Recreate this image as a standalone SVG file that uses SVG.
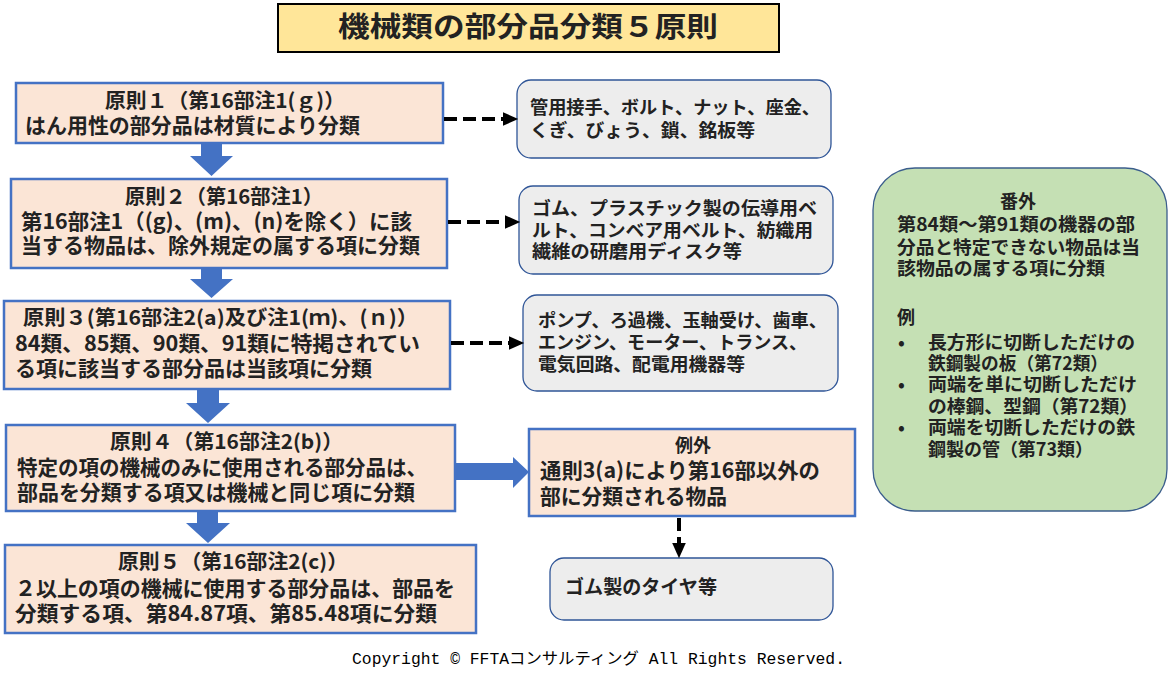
<svg xmlns="http://www.w3.org/2000/svg" width="1168" height="681" viewBox="0 0 1168 681">
<defs>
<style>
text{font-family:"Noto Sans CJK JP","Noto Sans",sans-serif;font-weight:bold;fill:#222}
.rule{fill:#FBE5D6;stroke:#4472C4;stroke-width:2.5}
.gray{fill:#EDEDED;stroke:#2F5597;stroke-width:1.3}
.h{font-size:20px}
.b{font-size:21px}
.g{font-size:18px}
.gr{font-size:18px}
.dash{stroke:#000;stroke-width:4;stroke-dasharray:13 6;fill:none}
.blk{fill:#4472C4}
</style>
<marker id="ah" markerWidth="4" markerHeight="4" refX="0" refY="2" orient="auto" markerUnits="strokeWidth"><path d="M0,0.3 L3.8,2 L0,3.7 Z" fill="#000"/></marker>
</defs>
<rect width="1168" height="681" fill="#fff"/>
<g id="title">
<rect x="278" y="4" width="501" height="48" fill="#FFE699" stroke="#000" stroke-width="2"/>
<text x="338" y="37" style="font-size:28px" textLength="380" lengthAdjust="spacingAndGlyphs">機械類の部分品分類５原則</text>
</g>
<g id="rule1">
<rect class="rule" x="16" y="83" width="427" height="60"/>
<text class="h" x="105" y="108" textLength="240" lengthAdjust="spacingAndGlyphs">原則１（第16部注1(ｇ)）</text>
<text class="b" x="25" y="133" textLength="335" lengthAdjust="spacingAndGlyphs">はん用性の部分品は材質により分類</text>
</g>
<g id="rule2">
<rect class="rule" x="11" y="179" width="436" height="89"/>
<text class="h" x="125" y="204" textLength="198" lengthAdjust="spacingAndGlyphs">原則２（第16部注1）</text>
<text class="b" x="21" y="229" textLength="391" lengthAdjust="spacingAndGlyphs">第16部注1（(g)、(m)、(n)を除く）に該</text>
<text class="b" x="21" y="253" textLength="399" lengthAdjust="spacingAndGlyphs">当する物品は、除外規定の属する項に分類</text>
</g>
<g id="rule3">
<rect class="rule" x="4" y="301" width="446" height="88"/>
<text class="h" x="23" y="325" textLength="395" lengthAdjust="spacingAndGlyphs">原則３(第16部注2(a)及び注1(ｍ)、(ｎ)）</text>
<text class="b" x="15" y="351" textLength="405" lengthAdjust="spacingAndGlyphs">84類、85類、90類、91類に特掲されてい</text>
<text class="b" x="15" y="376" textLength="357" lengthAdjust="spacingAndGlyphs">る項に該当する部分品は当該項に分類</text>
</g>
<g id="rule4">
<rect class="rule" x="6" y="425" width="449" height="86"/>
<text class="h" x="110" y="449" textLength="233" lengthAdjust="spacingAndGlyphs">原則４（第16部注2(b)）</text>
<text class="b" x="17" y="475" textLength="410" lengthAdjust="spacingAndGlyphs">特定の項の機械のみに使用される部分品は、</text>
<text class="b" x="17" y="500" textLength="398" lengthAdjust="spacingAndGlyphs">部品を分類する項又は機械と同じ項に分類</text>
</g>
<g id="rule5">
<rect class="rule" x="5" y="545" width="471" height="88"/>
<text class="h" x="118" y="569" textLength="230" lengthAdjust="spacingAndGlyphs">原則５（第16部注2(c)）</text>
<text class="b" x="15" y="596" textLength="440" lengthAdjust="spacingAndGlyphs">２以上の項の機械に使用する部分品は、部品を</text>
<text class="b" x="15" y="621" textLength="422" lengthAdjust="spacingAndGlyphs">分類する項、第84.87項、第85.48項に分類</text>
</g>
<g id="ex1">
<rect class="gray" x="517" y="80" width="314" height="78" rx="14"/>
<text class="g" x="530" y="114" textLength="290" lengthAdjust="spacingAndGlyphs">管用接手、ボルト、ナット、座金、</text>
<text class="g" x="530" y="137" textLength="225" lengthAdjust="spacingAndGlyphs">くぎ、びょう、鎖、銘板等</text>
</g>
<g id="ex2">
<rect class="gray" x="519" y="186" width="314" height="88" rx="14"/>
<text class="g" x="532" y="215" textLength="285" lengthAdjust="spacingAndGlyphs">ゴム、プラスチック製の伝導用ベ</text>
<text class="g" x="532" y="237" textLength="281" lengthAdjust="spacingAndGlyphs">ルト、コンベア用ベルト、紡織用</text>
<text class="g" x="532" y="258" textLength="210" lengthAdjust="spacingAndGlyphs">繊維の研磨用ディスク等</text>
</g>
<g id="ex3">
<rect class="gray" x="523" y="295" width="315" height="96" rx="14"/>
<text class="g" x="538" y="327" textLength="289" lengthAdjust="spacingAndGlyphs">ポンプ、ろ過機、玉軸受け、歯車、</text>
<text class="g" x="538" y="349" textLength="269" lengthAdjust="spacingAndGlyphs">エンジン、モーター、トランス、</text>
<text class="g" x="538" y="371" textLength="207" lengthAdjust="spacingAndGlyphs">電気回路、配電用機器等</text>
</g>
<g id="exception">
<rect class="rule" x="529" y="429" width="326" height="87"/>
<text class="g" x="693" y="452" text-anchor="middle">例外</text>
<text class="b" x="540" y="478" textLength="280" lengthAdjust="spacingAndGlyphs">通則3(a)により第16部以外の</text>
<text class="b" x="540" y="504" textLength="187" lengthAdjust="spacingAndGlyphs">部に分類される物品</text>
</g>
<g id="tire">
<rect class="gray" x="550" y="558" width="283" height="62" rx="14"/>
<text class="g" x="565" y="594" style="font-size:19px" textLength="152" lengthAdjust="spacingAndGlyphs">ゴム製のタイヤ等</text>
</g>
<g id="extra">
<rect x="873" y="168" width="294" height="343" rx="42" fill="#C5E0B4" stroke="#3B5E8C" stroke-width="1.3"/>
<text class="gr" x="1018" y="208" text-anchor="middle">番外</text>
<text class="gr" x="897" y="231" textLength="238" lengthAdjust="spacingAndGlyphs">第84類～第91類の機器の部</text>
<text class="gr" x="897" y="254" textLength="243" lengthAdjust="spacingAndGlyphs">分品と特定できない物品は当</text>
<text class="gr" x="897" y="275" textLength="208" lengthAdjust="spacingAndGlyphs">該物品の属する項に分類</text>
<text class="gr" x="897" y="324">例</text>
<text class="gr" x="898" y="349">•</text>
<text class="gr" x="928" y="349" textLength="207" lengthAdjust="spacingAndGlyphs">長方形に切断しただけの</text>
<text class="gr" x="928" y="370" textLength="180" lengthAdjust="spacingAndGlyphs">鉄鋼製の板（第72類）</text>
<text class="gr" x="898" y="391">•</text>
<text class="gr" x="928" y="391" textLength="209" lengthAdjust="spacingAndGlyphs">両端を単に切断しただけ</text>
<text class="gr" x="928" y="413" textLength="210" lengthAdjust="spacingAndGlyphs">の棒鋼、型鋼（第72類）</text>
<text class="gr" x="898" y="434">•</text>
<text class="gr" x="928" y="434" textLength="207" lengthAdjust="spacingAndGlyphs">両端を切断しただけの鉄</text>
<text class="gr" x="928" y="456" textLength="165" lengthAdjust="spacingAndGlyphs">鋼製の管（第73類）</text>
</g>
<g id="connectors">
<path class="blk" d="M201,144 H222 V156 H233 L211.5,176 L190,156 H201 Z"/>
<path class="blk" d="M201,269 H222 V279 H233 L211.5,298 L190,279 H201 Z"/>
<path class="blk" d="M197,390 H219 V403 H230 L208,423 L186,403 H197 Z"/>
<path class="blk" d="M197,512 H218 V523 H230 L208,543 L186,523 H197 Z"/>
<path class="blk" d="M456,463 H513 V457 L529,472 L513,488 V480 H456 Z"/>
<line class="dash" x1="444" y1="119" x2="503" y2="119" marker-end="url(#ah)"/>
<line class="dash" x1="448" y1="222" x2="505" y2="222" marker-end="url(#ah)"/>
<line class="dash" x1="451" y1="343" x2="509" y2="343" marker-end="url(#ah)"/>
<line class="dash" x1="679" y1="518" x2="679" y2="543" marker-end="url(#ah)"/>
</g>
<text x="352" y="664" style="font-family:'Liberation Mono','Noto Sans CJK JP',monospace;font-weight:normal;font-size:16px;fill:#000" textLength="493" lengthAdjust="spacingAndGlyphs">Copyright © FFTAコンサルティング All Rights Reserved.</text>
</svg>
